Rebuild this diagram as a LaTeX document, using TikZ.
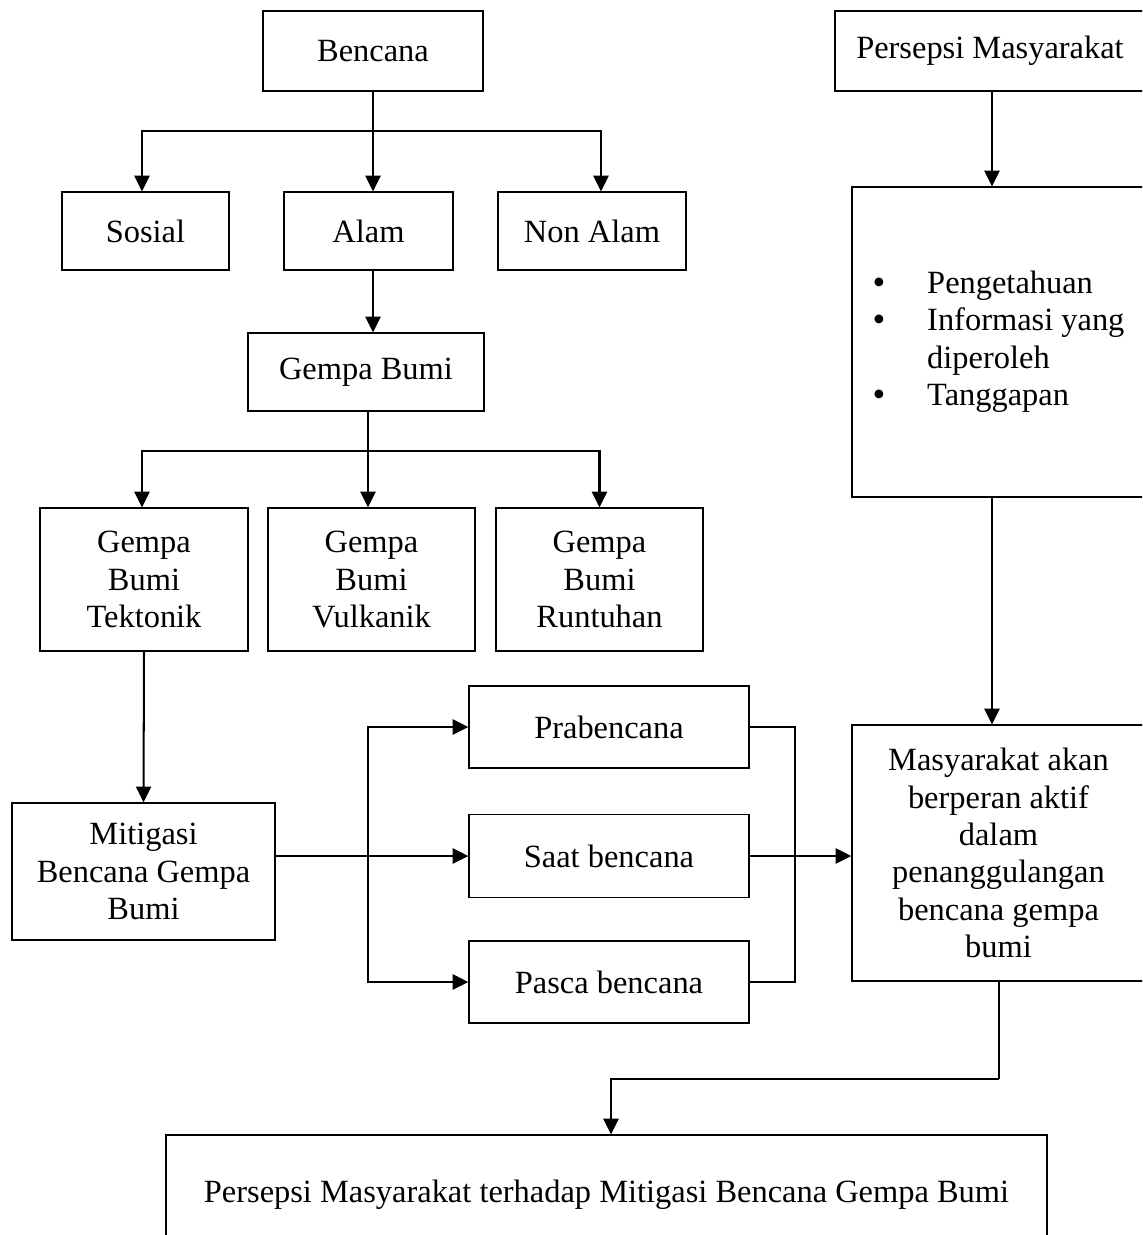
\documentclass[tikz,border=0pt]{standalone}
\usepackage{fontspec}
\setmainfont{Liberation Serif}
\usetikzlibrary{arrows.meta}
\newcommand\U{0.37pt}
\newcommand\bigbul{\raisebox{-0.3pt}{\fontsize{13.5}{13.8}\selectfont\textbullet}}
\begin{document}
\begin{tikzpicture}[x=0.37pt,y=-0.37pt,
  box/.style={draw, line width=0.5pt, rectangle, inner sep=0pt, align=center, font=\fontsize{12}{13.8}\selectfont},
  link/.style={line width=0.75pt},
  arr/.style={link, -{Triangle[length=5.8pt,width=5.6pt]}}]
\useasboundingbox (0,0) rectangle (1142,1235);
\clip (0,0) rectangle (1142,1235);

\node[box, minimum width=220*\U, minimum height=80*\U] (bencana) at (373,51) {Bencana};
\node[box, minimum width=310*\U, minimum height=80*\U] (persepsi) at (990,51) {Persepsi Masyarakat};
\node[box, minimum width=167*\U, minimum height=78*\U] (sosial) at (145.5,231) {Sosial};
\node[box, minimum width=169*\U, minimum height=78*\U] (alam) at (368.5,231) {Alam};
\node[box, minimum width=188*\U, minimum height=78*\U] (nonalam) at (592,231) {Non Alam};
\node[box, minimum width=236*\U, minimum height=78*\U] (gempa) at (366,372) {Gempa Bumi};
\node[box, minimum width=208*\U, minimum height=143*\U] (tektonik) at (144,579.5) {Gempa\\Bumi\\Tektonik};
\node[box, minimum width=207*\U, minimum height=143*\U] (vulkanik) at (371.5,579.5) {Gempa\\Bumi\\Vulkanik};
\node[box, minimum width=207*\U, minimum height=143*\U] (runtuhan) at (599.5,579.5) {Gempa\\Bumi\\Runtuhan};
\node[box, minimum width=263*\U, minimum height=137*\U] (mitigasi) at (143.5,871.5) {Mitigasi\\Bencana Gempa\\Bumi};
\node[box, minimum width=280*\U, minimum height=82*\U] (pra) at (609,727) {Prabencana};
\node[box, minimum width=280*\U, minimum height=83*\U] (saat) at (609,856) {Saat bencana};
\node[box, minimum width=280*\U, minimum height=82*\U] (pasca) at (609,982) {Pasca bencana};
\node[box, minimum width=293*\U, minimum height=310*\U] (list) at (998.5,342)
  {\begin{tabular}{@{}l@{\hspace{15.5pt}}l@{}}
   \bigbul & Pengetahuan\\
   \bigbul & Informasi yang\\
           & diperoleh\\
   \bigbul & Tanggapan
   \end{tabular}};
\node[box, minimum width=293*\U, minimum height=256*\U] (masy) at (998.5,853)
  {Masyarakat akan\\berperan aktif\\dalam\\penanggulangan\\bencana gempa\\bumi};
\node[box, minimum width=881*\U, minimum height=120*\U] (final) at (606.5,1195)
  {Persepsi Masyarakat terhadap Mitigasi Bencana Gempa Bumi};

% Bencana branches
\coordinate (j1) at (373,131);
\draw[link] (bencana.south) -- (j1);
\draw[arr] (j1) -- (j1 |- alam.north);
\draw[arr] (j1) -| ([xshift=-3.5*\U]sosial.north);
\draw[arr] (j1) -| ([xshift=9*\U]nonalam.north);

% Alam -> Gempa Bumi
\coordinate (a1) at ([xshift=4.5*\U]alam.south);
\draw[arr] (a1) -- (a1 |- gempa.north);

% Gempa Bumi branches
\coordinate (j2) at (368,451);
\draw[link] (gempa.south -| j2) -- (j2);
\draw[arr] (j2) -- (j2 |- vulkanik.north);
\draw[arr] (j2) -| ([xshift=-2*\U]tektonik.north);
\draw[arr] (j2) -| (runtuhan.north);

% Tektonik -> Mitigasi
\draw[arr] (tektonik.south) -- (mitigasi.north);

% Mitigasi -> stages
\coordinate (m1) at (mitigasi.east |- saat.west);
\draw[arr] (m1) -- (saat.west);
\coordinate (lb) at (368,856);
\draw[arr] (lb) |- (pra.west);
\draw[arr] (lb) |- (pasca.west);

% stages -> Masyarakat
\coordinate (rb) at (795,856);
\draw[link] (pra.east) -| (rb);
\draw[link] (pasca.east) -| (rb);
\draw[arr] (saat.east) -- (saat.east -| masy.west);

% Persepsi -> list -> Masyarakat
\coordinate (p1) at ([xshift=2*\U]persepsi.south);
\draw[arr] (p1) -- (p1 |- list.north);
\coordinate (l1) at ([xshift=-6.5*\U]list.south);
\draw[arr] (l1) -- (l1 |- masy.north);

% Masyarakat -> final
\coordinate (m2) at (999,1079);
\coordinate (m3) at (611,1079);
\draw[link] (masy.south -| m2) -- (m2);
\draw[arr] (m2) -- (m3) -- (m3 |- final.north);
\end{tikzpicture}
\end{document}
